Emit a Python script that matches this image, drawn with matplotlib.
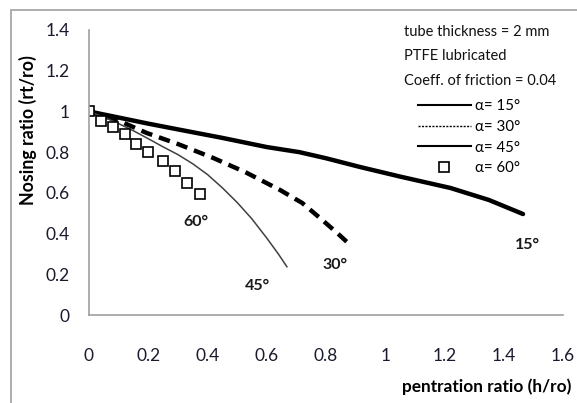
import matplotlib
matplotlib.use("Agg")
import matplotlib.pyplot as plt
from matplotlib.lines import Line2D
from matplotlib.patches import Rectangle

plt.rcParams['font.family'] = ['Lato', 'DejaVu Sans']

# data
x15 = [0, 0.1, 0.2, 0.31, 0.45, 0.6, 0.71, 0.8, 0.915, 1.05, 1.22, 1.35, 1.465]
y15 = [1.0, 0.97, 0.94, 0.909, 0.87, 0.825, 0.80, 0.77, 0.727, 0.68, 0.624, 0.565, 0.496]
x30 = [0, 0.1, 0.195, 0.3, 0.42, 0.53, 0.645, 0.72, 0.78, 0.84, 0.875]
y30 = [1.0, 0.955, 0.894, 0.84, 0.771, 0.70, 0.614, 0.55, 0.476, 0.40, 0.353]
x45 = [0, 0.05, 0.1, 0.15, 0.2, 0.25, 0.3, 0.35, 0.4, 0.45, 0.5, 0.55, 0.6, 0.64, 0.668]
y45 = [1.0, 0.972, 0.94, 0.905, 0.866, 0.826, 0.788, 0.743, 0.69, 0.625, 0.553, 0.472, 0.378, 0.298, 0.237]
x60 = [0, 0.04, 0.08, 0.12, 0.16, 0.2, 0.25, 0.29, 0.33, 0.375]
y60 = [1.0, 0.954, 0.925, 0.887, 0.838, 0.802, 0.756, 0.707, 0.65, 0.594]

curve_labels = ["15°", "30°", "45°", "60°"]
label_pos = [(1.48, 0.345), (0.83, 0.245), (0.57, 0.14), (0.36, 0.455)]
legend_labels = ["α= 15°", "α= 30°", "α= 45°", "α= 60°"]
notes = ["tube thickness = 2 mm", "PTFE lubricated", "Coeff. of friction = 0.04"]
xticks = [0, 0.2, 0.4, 0.6, 0.8, 1, 1.2, 1.4, 1.6]
xtick_labels = ["0", "0.2", "0.4", "0.6", "0.8", "1", "1.2", "1.4", "1.6"]
yticks = [0, 0.2, 0.4, 0.6, 0.8, 1, 1.2, 1.4]
ytick_labels = ["0", "0.2", "0.4", "0.6", "0.8", "1", "1.2", "1.4"]

W, H = 577, 403
fig = plt.figure(figsize=(W / 100, H / 100), dpi=100)
fig.patches.append(Rectangle((11 / W, -0.1), 1.2, (H - 10) / H + 0.1, transform=fig.transFigure,
                             fill=False, edgecolor='#a0a0a0', linewidth=1.2))

ax = fig.add_axes([89 / W, (H - 315) / H, (563 - 89) / W, (315 - 30) / H])
ax.set_xlim(0, 1.6)
ax.set_ylim(0, 1.4)
for s in ['top', 'right']:
    ax.spines[s].set_visible(False)
for s in ['left', 'bottom']:
    ax.spines[s].set_color('#a0a0a0')
    ax.spines[s].set_linewidth(1.2)

ax.plot(x15, y15, color='black', linewidth=3.2, solid_capstyle='round')
ax.plot(x30, y30, color='black', linewidth=3.2, linestyle=(0, (2.6, 1.6)))
ax.plot(x45, y45, color='#404040', linewidth=1.1)
ax.plot(x60, y60, linestyle='none', marker='s', markersize=7.8, markerfacecolor='white',
        markeredgecolor='black', markeredgewidth=1.2)

ax.set_xticks(xticks)
ax.set_xticklabels(xtick_labels)
ax.set_yticks(yticks)
ax.set_yticklabels(ytick_labels)
ax.tick_params(axis='both', length=0, labelsize=12.5, colors='#1a1a2e')
ax.tick_params(axis='x', pad=24)
ax.tick_params(axis='y', pad=14)

for t, (px, py) in zip(curve_labels, label_pos):
    ax.text(px, py, t, fontsize=11.5, fontweight='bold', ha='center', va='center', color='#1a1a1a')

fig.text(28 / W, 1 - 130 / H, "Nosing ratio (rt/ro)", rotation=90, fontsize=12.8,
         fontweight='bold', ha='center', va='center')
fig.text(571 / W, 1 - 387 / H, "pentration ratio (h/ro)", fontsize=12.4,
         fontweight='bold', ha='right', va='center')

for i, t in enumerate(notes):
    fig.text(404 / W, 1 - (32 + 24.5 * i) / H, t, fontsize=10.5, ha='left', va='center',
             color='#111111')

handles = [Line2D([], [], color='black', linewidth=1.5),
           Line2D([], [], color='black', linewidth=1.0, linestyle=(0, (1.5, 1.0))),
           Line2D([], [], color='black', linewidth=1.5),
           Line2D([], [], linestyle='none', marker='s', markersize=7, markerfacecolor='white',
                  markeredgecolor='black', markeredgewidth=1.2)]
leg = fig.legend(handles, legend_labels, loc='upper left',
                 bbox_to_anchor=(418 / W, 1 - 99 / H), frameon=False, fontsize=10.8,
                 handlelength=3.5, handletextpad=0.3, labelspacing=0.45, borderpad=0,
                 borderaxespad=0)

fig.savefig("out.png", dpi=100)
